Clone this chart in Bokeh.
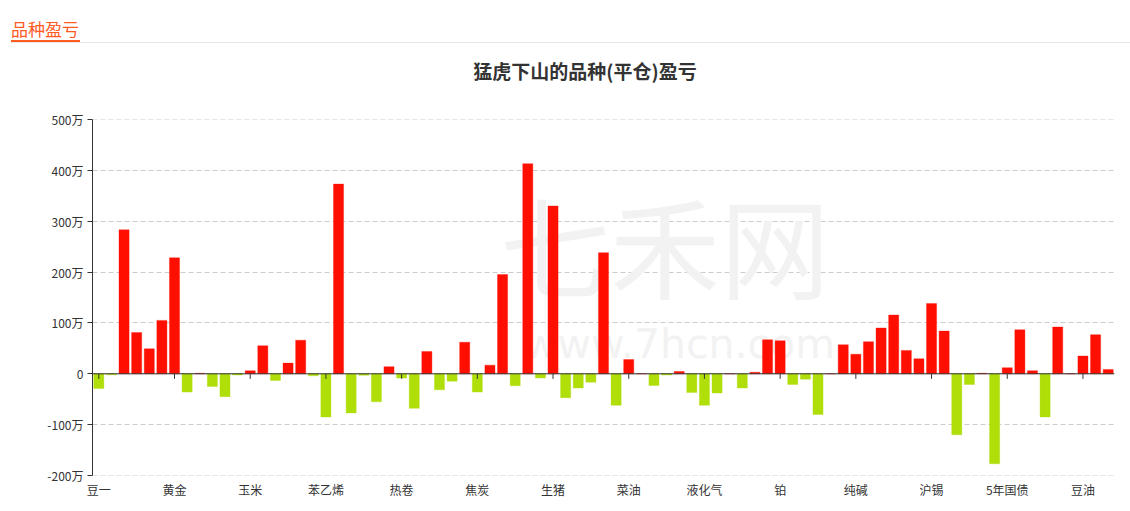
from bokeh.plotting import figure
from bokeh.models import (Div, Range1d, FixedTicker, SingleIntervalTicker, CustomJSTickFormatter,
                          Span, Label, ColumnDataSource)
from bokeh.layouts import column
from bokeh.embed import file_html
from bokeh.resources import INLINE

# ---- data (万) ----
pnl = [-29, -2, 283, 81, 49, 105, 228, -36, 1, -25,
       -45, -2.5, 6, 55, -13, 21, 66, -4, -85, 373,
       -77, -3, -55, 14, -8.5, -68, 44, -31.5, -14.5, 62,
       -36, 17, 195, -23.5, 413, -8.5, 330, -47, -28, -16.5,
       238, -62, 28, 0, -23, -2.5, 4.5, -37, -62, -38,
       0, -28, 3, 67, 65, -21, -10.5, -80, 0, 57,
       38.5, 63, 90, 115.5, 46, 29.5, 138, 84, -120, -21,
       1, -177, 12, 86.5, 6, -85, 92, 0, 35, 77,
       8.5]
shown_labels = ["豆一", "黄金", "玉米", "苯乙烯", "热卷", "焦炭", "生猪",
                "菜油", "液化气", "铂", "纯碱", "沪锡", "5年国债", "豆油"]
label_step = 6

FONT = "Noto Sans CJK SC"
RED = "#ff0f00"
GREEN = "#b0de09"

idx = list(range(len(pnl)))
colors = [RED if v >= 0 else GREEN for v in pnl]
src = ColumnDataSource(dict(x=idx, top=pnl, color=colors))

header = Div(width=1122, height=109, margin=(0, 0, 0, 0), text=f"""
<div style="position:relative;width:1122px;height:109px;font-family:'{FONT}',sans-serif;">
  <div style="position:absolute;left:11px;width:1119px;top:42px;border-top:1px solid #e8e8e8;"></div>
  <div style="position:absolute;left:11px;top:18px;font-size:17px;line-height:22px;color:#ff5a1f;
              border-bottom:2px solid #ff5a1f;padding:0 1px 0 0;">品种盈亏</div>
  <div style="position:absolute;left:285px;width:600px;top:58px;text-align:center;font-size:19px;
              font-weight:bold;color:#333;line-height:26px;">猛虎下山的品种(平仓)盈亏</div>
</div>
""")

p = figure(width=1122, height=394, output_backend="svg", toolbar_location=None,
           x_range=Range1d(-0.5, len(pnl) - 0.5), y_range=Range1d(-200, 500),
           min_border_top=10, min_border_bottom=28, min_border_left=92, min_border_right=8,
           margin=(0, 0, 0, 0))
p.outline_line_color = None
p.background_fill_color = "white"
p.border_fill_color = "white"

# watermark
wm1 = Label(x=31.8, y=100, text="七禾网", text_font=FONT, text_font_size="110px",
            text_color="#f2f2f2", level="underlay")
wm2 = Label(x=33.7, y=12, text="www.7hcn.com", text_font="DejaVu Sans", text_font_size="41px",
            text_color="#f2f2f2", level="underlay")
p.add_layout(wm1)
p.add_layout(wm2)

# edge grid lines (Bokeh skips the ones on the range limits)
for edge in (p.y_range.start, p.y_range.end):
    p.add_layout(Span(location=edge, dimension="width", line_color="#cccccc",
                      line_dash="5 3", line_width=1, level="underlay"))

p.vbar(x="x", top="top", bottom=0, width=0.8, source=src,
       fill_color="color", line_color="color", line_alpha=0.35)

# zero line and category ticks
p.add_layout(Span(location=0, dimension="width", line_color="#333333", line_width=1))
tick_pos = [i * label_step for i in range(len(shown_labels))]
p.segment(x0=tick_pos, x1=tick_pos, y0=[0] * len(tick_pos), y1=[-10] * len(tick_pos),
          line_color="#333333", line_width=1)

# y axis
p.yaxis.ticker = SingleIntervalTicker(interval=100)
p.yaxis.formatter = CustomJSTickFormatter(code="return tick == 0 ? '0' : tick + '万';")
p.yaxis.axis_line_color = "#333333"
p.yaxis.major_tick_line_color = "#333333"
p.yaxis.major_tick_out = 5
p.yaxis.major_tick_in = 0
p.yaxis.minor_tick_line_color = None
p.yaxis.major_label_standoff = 4
p.yaxis.major_label_text_font = FONT
p.yaxis.major_label_text_font_size = "12px"
p.yaxis.major_label_text_color = "#333333"

# x axis (labels only)
p.xaxis.ticker = FixedTicker(ticks=tick_pos)
p.xaxis.major_label_overrides = {t: lab for t, lab in zip(tick_pos, shown_labels)}
p.xaxis.axis_line_color = None
p.xaxis.major_tick_line_color = None
p.xaxis.minor_tick_line_color = None
p.xaxis.major_tick_out = 0
p.xaxis.major_tick_in = 0
p.xaxis.minor_tick_out = 0
p.xaxis.major_label_standoff = 5
p.xaxis.major_label_text_font = FONT
p.xaxis.major_label_text_font_size = "12px"
p.xaxis.major_label_text_color = "#333333"

p.xgrid.grid_line_color = None
p.ygrid.grid_line_color = "#cccccc"
p.ygrid.grid_line_dash = "5 3"

layout = column(header, p, spacing=0)
open("out.html", "w").write(file_html(layout, INLINE))
